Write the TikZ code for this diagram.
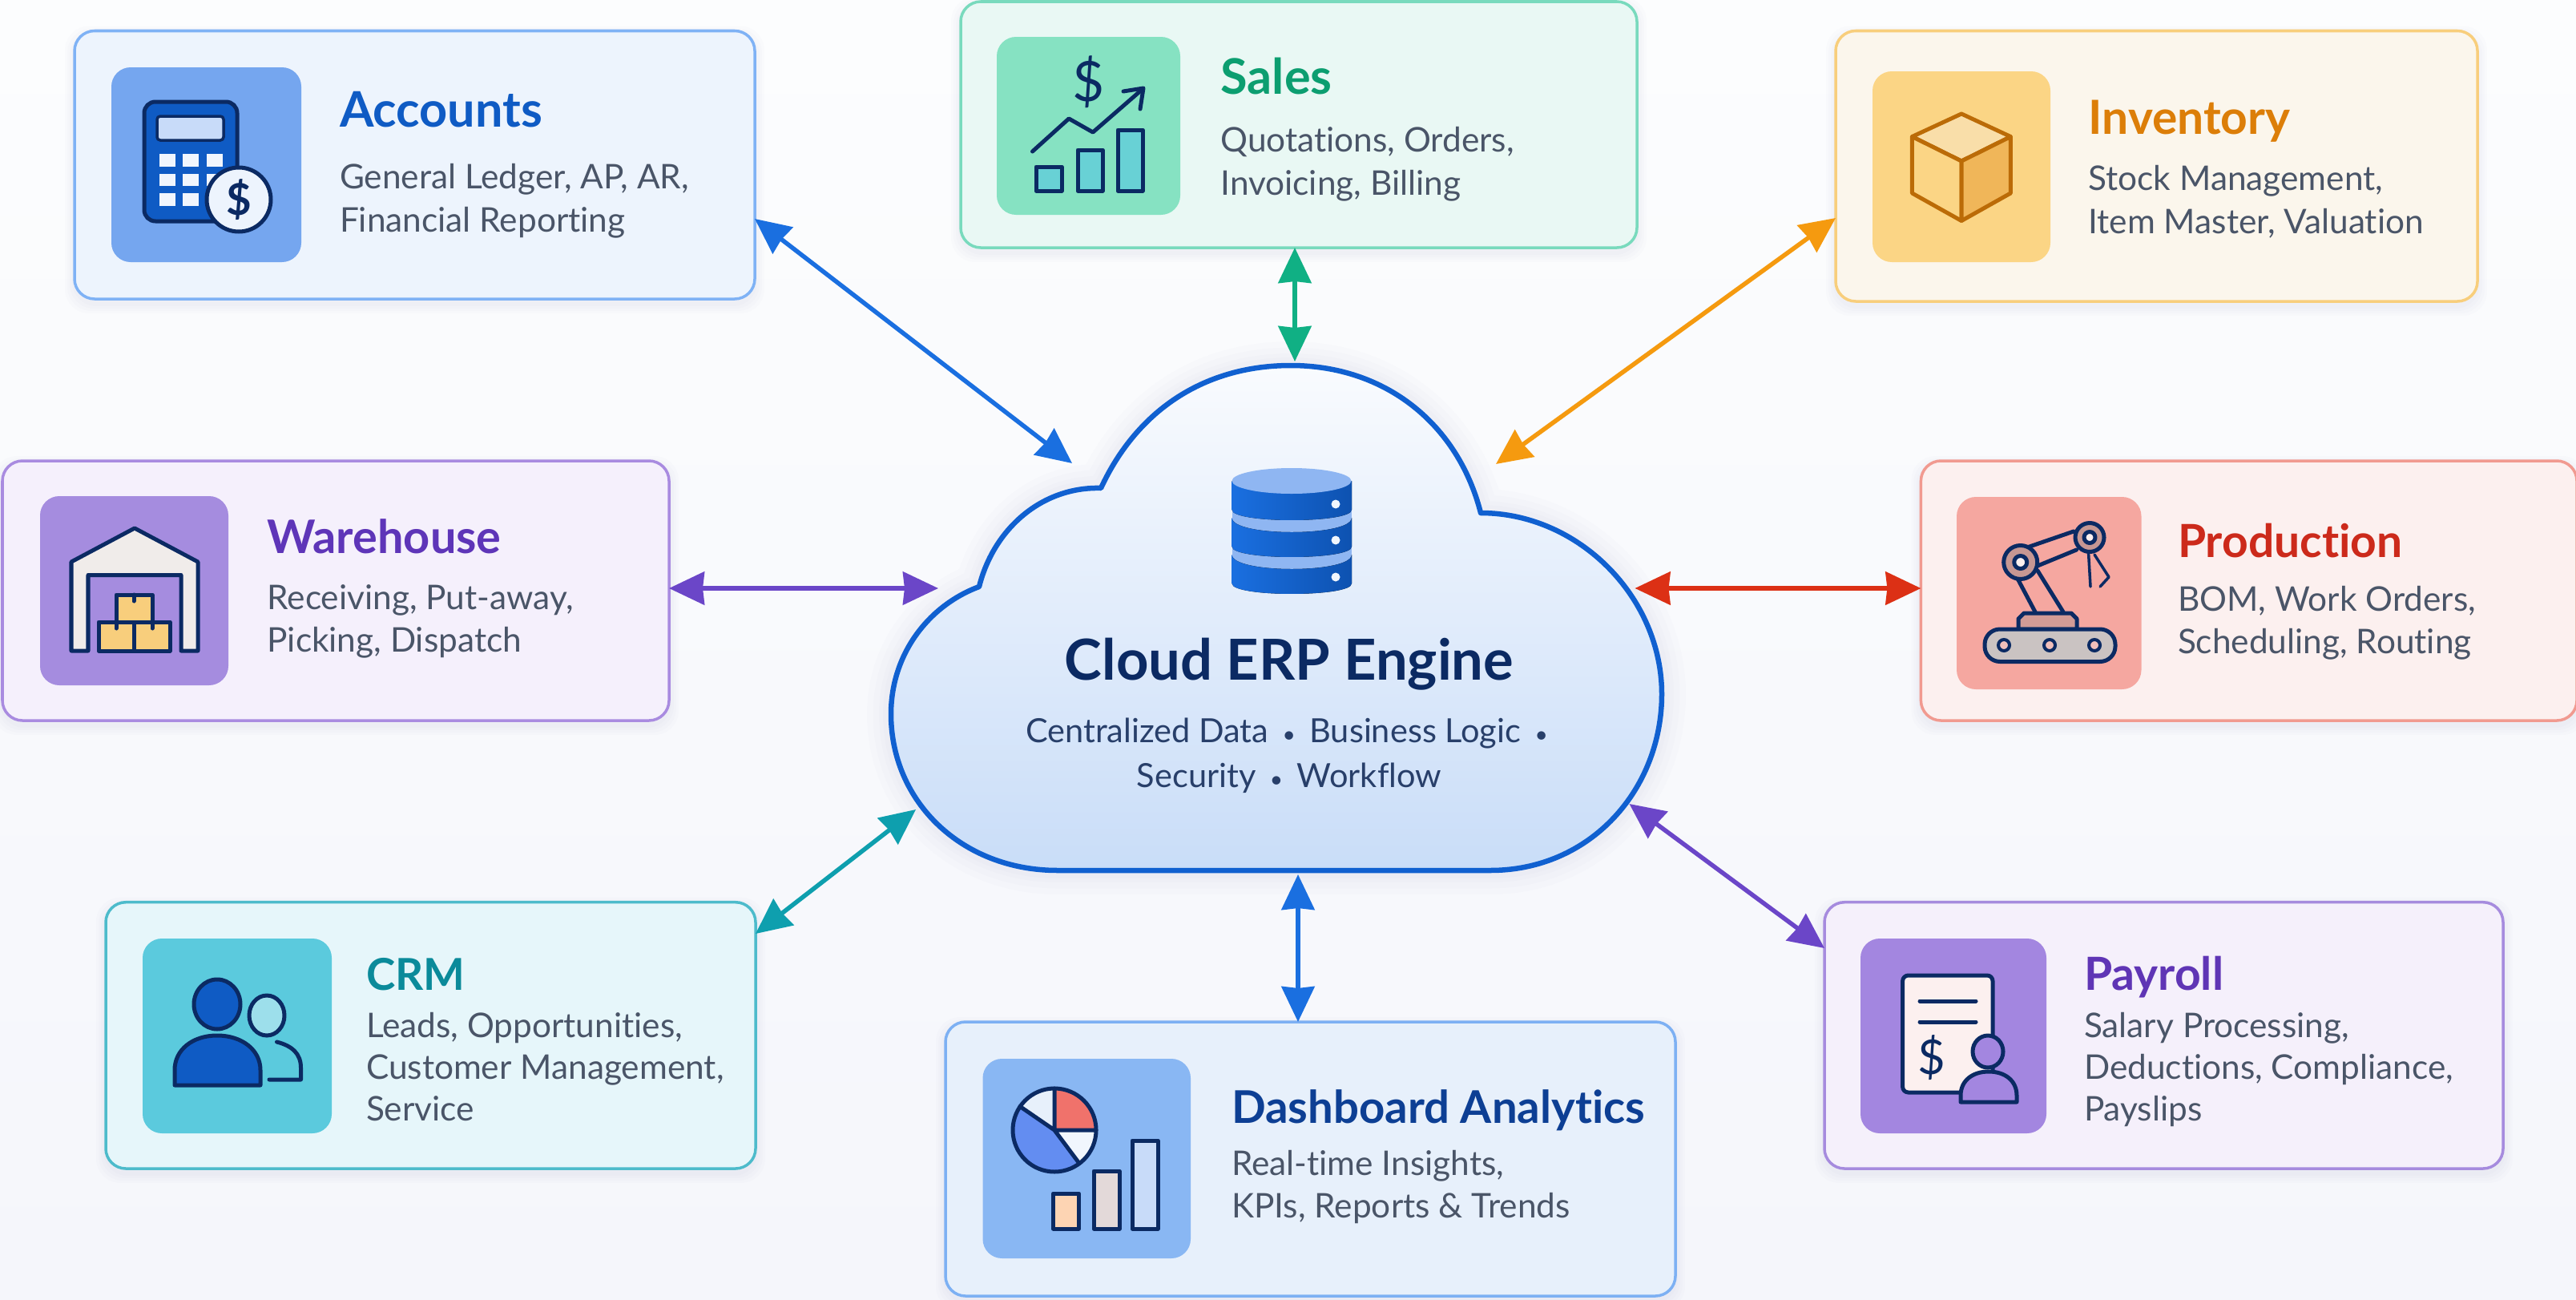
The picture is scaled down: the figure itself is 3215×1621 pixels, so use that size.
\documentclass[tikz,border=0pt]{standalone}
\usepackage{fontspec}
\setmainfont{Lato}[Ligatures=CommonOff]
\usetikzlibrary{arrows.meta}
\definecolor{ink}{HTML}{0B2A63}
\definecolor{bodyc}{HTML}{4A5568}
\definecolor{accF}{HTML}{EDF4FD}\definecolor{accB}{HTML}{7FB2F5}\definecolor{accI}{HTML}{75A6EF}\definecolor{accT}{HTML}{0F5BC4}
\definecolor{warF}{HTML}{F5F0FC}\definecolor{warB}{HTML}{A98BE0}\definecolor{warI}{HTML}{A58CDF}\definecolor{warT}{HTML}{5E35B8}
\definecolor{salF}{HTML}{E9F8F4}\definecolor{salB}{HTML}{79DABD}\definecolor{salI}{HTML}{86E2C2}\definecolor{salT}{HTML}{0C9E70}
\definecolor{invF}{HTML}{FBF6EC}\definecolor{invB}{HTML}{F8CE7C}\definecolor{invI}{HTML}{FBD585}\definecolor{invT}{HTML}{DC7E08}
\definecolor{proF}{HTML}{FCF0EF}\definecolor{proB}{HTML}{F19A90}\definecolor{proI}{HTML}{F5A7A0}\definecolor{proT}{HTML}{CC2A1B}
\definecolor{crmF}{HTML}{E6F6FA}\definecolor{crmB}{HTML}{4DBBCB}\definecolor{crmI}{HTML}{5BCADD}\definecolor{crmT}{HTML}{0B8A9A}
\definecolor{dasF}{HTML}{E7F0FB}\definecolor{dasB}{HTML}{7DB0F3}\definecolor{dasI}{HTML}{89B7F3}\definecolor{dasT}{HTML}{0D3F94}
\definecolor{payF}{HTML}{F5F0FB}\definecolor{payB}{HTML}{A68BDE}\definecolor{payI}{HTML}{A386E0}\definecolor{payT}{HTML}{5F35B5}
\definecolor{arBlue}{HTML}{1A6FE0}\definecolor{arGreen}{HTML}{10B084}\definecolor{arOrange}{HTML}{F59A0F}
\definecolor{arPurple}{HTML}{6B46C8}\definecolor{arRed}{HTML}{DC3015}\definecolor{arTeal}{HTML}{0E9FAE}
\definecolor{bgTop}{HTML}{FCFDFE}\definecolor{bgBot}{HTML}{F5F6FB}
\definecolor{wallc}{HTML}{F0ECEA}\definecolor{cloudTop}{HTML}{F9FBFE}\definecolor{cloudBot}{HTML}{C9DDF8}\definecolor{cloudLn}{HTML}{1060D0}
\definecolor{dbBand}{HTML}{8FB6F2}
\tikzset{
  cardnode/.style={rectangle,rounded corners=0.25cm,line width=0.035cm,inner sep=0pt,outer sep=0pt},
  icontile/.style={rounded corners=0.24cm},
  cardtitle/.style={anchor=base west,inner sep=0pt,outer sep=0pt,yshift=-0.03cm,font=\fontsize{#1}{18}\selectfont\bfseries},
  cardtitle/.default=16.2,
  cardline/.style={anchor=base west,inner sep=0pt,outer sep=0pt,yshift=-0.01cm,text=bodyc,font=\fontsize{12.05}{14}\selectfont},
  ic/.style={draw=ink,line width=0.05cm,line join=round,line cap=round},
  glyph/.style={inner sep=0pt,outer sep=0pt,text=ink},
  biarrow/.style={line width=0.055cm,{Stealth[length=0.44cm,width=0.41cm,inset=0.02cm]}-{Stealth[length=0.44cm,width=0.41cm,inset=0.02cm]}},
}
\newcommand{\cardbox}[7]{%
  \foreach \k in {12,9,6,3}{\fill[black!50!blue,opacity=0.012,rounded corners=0.3cm] (#2-\k,#3-\k+6) rectangle (#4+\k,#5+\k+6);}
  \node[cardnode,fill=#6,draw=#7,minimum width=(#4-#2)*0.01cm,minimum height=(#5-#3)*0.01cm] (#1) at ({(#2+#4)/2},{(#3+#5)/2}) {};}
\newcommand{\dbdisc}[1]{%
  \fill[dbBand] (1537.5,#1-10) -- (1687,#1-10) -- (1687,#1+30) -- (1537.5,#1+30) -- cycle;
  \fill[left color=arBlue,right color=accT!90!black] (1537.5,#1) -- (1537.5,#1+36) .. controls (1537.5,#1+53.3) and (1687,#1+53.3) .. (1687,#1+36) -- (1687,#1) .. controls (1687,#1+24) and (1537.5,#1+24) .. (1537.5,#1) -- cycle;}
\newcommand{\smallbul}{\hspace{0.42em}{\fontsize{8}{8}\selectfont •}\hspace{0.42em}}
\begin{document}
\begin{tikzpicture}[x=0.01cm,y=-0.01cm]
\useasboundingbox (0,0) rectangle (3215,1621);
\fill[top color=bgTop,bottom color=bgBot] (0,0) rectangle (3215,1621);

% ---------- cloud ----------
\def\cloudpath{(1374,609) .. controls (1420,510) and (1505,456) .. (1611,456) .. controls (1730,456) and (1820,530) .. (1848,640) .. controls (1970,640) and (2074,745) .. (2074,866) .. controls (2074,985) and (1985,1086) .. (1860,1086) -- (1320,1086) .. controls (1200,1086) and (1112,1000) .. (1112,891) .. controls (1112,815) and (1160,755) .. (1222,732) .. controls (1240,660) and (1300,607) .. (1374,609) -- cycle}
\foreach \w in {0.6,0.45,0.3,0.2}{\draw[blue!60!black,opacity=0.012,line width=\w cm,line join=round] \cloudpath;}
\path[top color=cloudTop,bottom color=cloudBot,draw=cloudLn,line width=0.065cm,line join=round] \cloudpath;

% database icon
\begin{scope}
\clip (1537.5,560) -- (1687,560) -- (1687,728) .. controls (1687,765) and (1537.5,765) .. (1537.5,728) -- cycle;
\dbdisc{692}
\dbdisc{646}
\fill[left color=arBlue,right color=accT!90!black] (1537.5,600) -- (1537.5,636) .. controls (1537.5,653.3) and (1687,653.3) .. (1687,636) -- (1687,600) -- cycle;
\end{scope}
\fill[dbBand] (1612,600) ellipse (74.5 and 16);
\fill[white!90!accI] (1667,629) circle (5.5);
\fill[white!90!accI] (1667,674) circle (5.5);
\fill[white!90!accI] (1667,720) circle (5.5);

\node[anchor=base,inner sep=0pt,text=ink,font=\fontsize{20.05}{24}\selectfont\bfseries] (cloudTitle) at (1609,848) {Cloud ERP Engine};
\node[anchor=base,inner sep=0pt,text=ink!75!gray,font=\fontsize{11.8}{14}\selectfont] (cloudL1) at (1606,926) {Centralized Data\smallbul Business Logic\smallbul};
\node[anchor=base,inner sep=0pt,text=ink!75!gray,font=\fontsize{11.8}{14}\selectfont] (cloudL2) at (1609,982) {Security\smallbul Workflow};

% ---------- cards ----------
\cardbox{acc}{93}{38.5}{942}{373}{accF}{accB}
\fill[accI,icontile] (139,84) rectangle (376,327);
\node[cardtitle=17.4,text=accT] (accTitle) at (424,155) {Accounts};
\node[cardline] (accL1) at (424,234) {General Ledger, AP, AR,};
\node[cardline] (accL2) at (424,288) {Financial Reporting};
\draw[ic,fill=accT,rounded corners=0.14cm] (180,127) rectangle (296,276);
\draw[draw=ink,line width=0.035cm,fill=accI!40!white,rounded corners=0.04cm] (196,145) rectangle (279,175);
\foreach \xa/\xb in {199/219,228/248,258/278}{\foreach \ya/\yb in {192/208,217/232,241/257}{\fill[white!90!accI] (\xa,\ya) rectangle (\xb,\yb);}}
\draw[ic,fill=accF] (298,249) circle (40);
\node[glyph,font=\fontsize{15.5}{15.5}\selectfont\bfseries] (accDollar) at (298,249) {\$};

\cardbox{war}{3}{575}{835}{899}{warF}{warB}
\fill[warI,icontile] (50,619) rectangle (285,855);
\node[cardtitle=16.4,text=warT] (warTitle) at (333.5,687) {Warehouse};
\node[cardline] (warL1) at (333.5,759) {Receiving, Put-away,};
\node[cardline] (warL2) at (333.5,812) {Picking, Dispatch};
\draw[ic,fill=wallc] (89,812) -- (89,701) -- (168,659) -- (247,701) -- (247,812) -- (226,812) -- (226,717.5) -- (110,717.5) -- (110,812) -- cycle;
\draw[ic,fill=invB] (145,742) rectangle (190,776);
\draw[ic,fill=invB] (123,776) rectangle (167,812);
\draw[ic,fill=invB] (167,776) rectangle (212,812);
\draw[ic] (167,742) -- (167,750) (145,776) -- (145,784) (190,776) -- (190,784);

\cardbox{sal}{1199}{2}{2043}{309}{salF}{salB}
\fill[salI,icontile] (1244,46) rectangle (1473,268);
\node[cardtitle=17.4,text=salT] (salTitle) at (1523.5,114) {Sales};
\node[cardline] (salL1) at (1523.5,188) {Quotations, Orders,};
\node[cardline] (salL2) at (1523.5,242) {Invoicing, Billing};
\node[glyph,font=\fontsize{19.7}{20}\selectfont] (salDollar) at (1359,102) {\$};
\draw[ic] (1288.5,189) -- (1334,148) -- (1364,165) -- (1425,112);
\draw[ic] (1402,114) -- (1427,110) -- (1423,136);
\draw[ic,fill=crmI!70!salI] (1293,208) rectangle (1325,238);
\draw[ic,fill=crmI!70!salI] (1345,187) rectangle (1376,238);
\draw[ic,fill=crmI!70!salI] (1395,162) rectangle (1426,238);

\cardbox{inv}{2291}{38.5}{3092}{376}{invF}{invB}
\fill[invI,icontile] (2337,89) rectangle (2559,327);
\node[cardtitle=16.7,text=invT] (invTitle) at (2606.5,164) {Inventory};
\node[cardline] (invL1) at (2606.5,236.5) {Stock Management,};
\node[cardline] (invL2) at (2606.5,290) {Item Master, Valuation};
\draw[line width=0.05cm,draw=invT!85!black,line join=round,fill=invF!40!invB] (2448,142) -- (2509.4,170.5) -- (2448,201) -- (2386.4,170.5) -- cycle;
\draw[line width=0.05cm,draw=invT!85!black,line join=round,fill=invI] (2386.4,170.5) -- (2448,201) -- (2448,275.5) -- (2386.4,241) -- cycle;
\draw[line width=0.05cm,draw=invT!85!black,line join=round,fill=invB!70!invT] (2509.4,170.5) -- (2448,201) -- (2448,275.5) -- (2509.4,241) -- cycle;

\cardbox{pro}{2397.4}{575}{3216}{899}{proF}{proB}
\fill[proI,icontile] (2442,620) rectangle (2672.5,860);
\node[cardtitle=16.2,text=proT] (proTitle) at (2718,692) {Production};
\node[cardline] (proL1) at (2718,761) {BOM, Work Orders,};
\node[cardline] (proL2) at (2718,814) {Scheduling, Routing};
\draw[ic,fill=proI!70!gray] (2519,785) -- (2519,772) -- (2526,765) -- (2585,765) -- (2592,772) -- (2592,785) -- cycle;
\draw[ic,fill=gray!40!proF,rounded corners=0.19cm] (2477,785) rectangle (2640,825.5);
\foreach \px in {2501,2558,2614}{\draw[draw=ink,line width=0.04cm,fill=proT!30!white] (\px,805) circle (7);}
\draw[ic] (2517,720) -- (2540,763.5) (2543,712) -- (2575,763.5);
\draw[ic] (2530,683) -- (2588,663) (2543,706) -- (2591.6,686);
\draw[ic,fill=proI!60!gray] (2521.7,701.5) circle (21);
\draw[ic,fill=proF] (2521.7,701.5) circle (8);
\draw[ic,fill=proI!60!gray] (2608,670.5) circle (18);
\draw[ic,fill=proF] (2608,670.5) circle (7);
\draw[ic,line width=0.035cm] (2606.5,689) -- (2609,732) (2614,692) -- (2632,720) -- (2621,732);

\cardbox{crm}{132}{1125.7}{943}{1458}{crmF}{crmB}
\fill[crmI,icontile] (178,1171) rectangle (414,1414);
\node[cardtitle=15.6,text=crmT] (crmTitle) at (457,1232) {CRM};
\node[cardline] (crmL1) at (457,1293) {Leads, Opportunities,};
\node[cardline] (crmL2) at (457,1345) {Customer Management,};
\node[cardline] (crmL3) at (457,1397) {Service};
\draw[ic,fill=crmI!60!white] (333,1267) ellipse (22 and 25);
\draw[ic] (345.5,1300) .. controls (365,1305) and (375.5,1315) .. (375.5,1332) -- (375.5,1347) -- (336,1347);
\draw[ic,fill=accT] (271,1253) ellipse (29 and 31);
\draw[ic,fill=accT] (218,1354) -- (218,1335) .. controls (218,1310) and (240,1292) .. (271,1292) .. controls (302,1292) and (325,1310) .. (325,1335) -- (325,1354) -- cycle;

\cardbox{das}{1180}{1275}{2091}{1617}{dasF}{dasB}
\fill[dasI,icontile] (1226.5,1321) rectangle (1486,1570);
\node[cardtitle=16,text=dasT] (dasTitle) at (1537,1398) {Dashboard Analytics};
\node[cardline] (dasL1) at (1537,1465) {Real-time Insights,};
\node[cardline] (dasL2) at (1537,1518) {KPIs, Reports \& Trends};
\begin{scope}
\clip (1316,1410) circle (52);
\fill[accI!85!blue] (1316,1410) -- (1373,1486) -- (1216,1486) -- (1216,1340) -- cycle;
\fill[dasF] (1316,1410) -- (1216,1340) -- (1316,1340) -- cycle;
\fill[proT!20!proI!80!red] (1316,1410) rectangle (1380,1340);
\fill[dasF!60!white] (1316,1410) -- (1380,1410) -- (1380,1486) -- (1373,1486) -- cycle;
\end{scope}
\draw[ic] (1316,1358) -- (1316,1410) -- (1368,1410) (1316,1410) -- (1347,1451.5) (1316,1410) -- (1273,1380.5);
\draw[ic] (1316,1410) circle (52);
\draw[ic,fill=orange!25!proF] (1314.5,1489) rectangle (1346.4,1533);
\draw[ic,fill=proF!80!gray] (1365,1461) rectangle (1397,1533);
\draw[ic,fill=accI!40!white] (1413,1423) rectangle (1445,1533);

\cardbox{pay}{2277}{1125.7}{3124}{1458}{payF}{payB}
\fill[payI,icontile] (2322,1171) rectangle (2554,1414);
\node[cardtitle=16.2,text=payT] (payTitle) at (2601,1232) {Payroll};
\node[cardline] (payL1) at (2601,1293) {Salary Processing,};
\node[cardline] (payL2) at (2601,1345) {Deductions, Compliance,};
\node[cardline] (payL3) at (2601,1397) {Payslips};
\draw[ic,fill=proF,rounded corners=0.07cm] (2374.6,1217) rectangle (2487,1363);
\draw[ic] (2396,1249) -- (2466,1249) (2396,1275) -- (2466,1275);
\node[glyph,font=\fontsize{17}{17}\selectfont] (payDollar) at (2411,1320) {\$};
\draw[ic,fill=payI] (2481,1312) ellipse (19 and 20);
\draw[ic,fill=payI] (2447,1375) -- (2447,1367) .. controls (2447,1348) and (2462,1337) .. (2482,1337) .. controls (2502,1337) and (2517,1348) .. (2517,1367) -- (2517,1375) -- cycle;

% ---------- connectors ----------
\coordinate (cAcc) at (1338,578);
\coordinate (cInv) at (1867,579);
\coordinate (cSal) at (1616,451);
\coordinate (cWar) at (1171,734);
\coordinate (cPro) at (2040.5,734);
\coordinate (cCrm) at (1143,1010);
\coordinate (cPay) at (2033.5,1003);
\coordinate (cDas) at (1620,1091);
\coordinate (eAcc) at (0,273);
\coordinate (eInv) at (0,272);
\coordinate (eCrm) at (0,1165);
\coordinate (ePay) at (0,1183);
\draw[biarrow,arBlue] (acc.east |- eAcc) -- (cAcc);
\draw[biarrow,arOrange] (inv.west |- eInv) -- (cInv);
\draw[biarrow,arGreen] (sal.south -| cSal) -- (cSal);
\draw[biarrow,arPurple] (war.east |- cWar) -- (cWar);
\draw[biarrow,arRed] (pro.west |- cPro) -- (cPro);
\draw[biarrow,arTeal] (crm.east |- eCrm) -- (cCrm);
\draw[biarrow,arPurple] (pay.west |- ePay) -- (cPay);
\draw[biarrow,arBlue] (das.north -| cDas) -- (cDas);
\end{tikzpicture}
\end{document}
